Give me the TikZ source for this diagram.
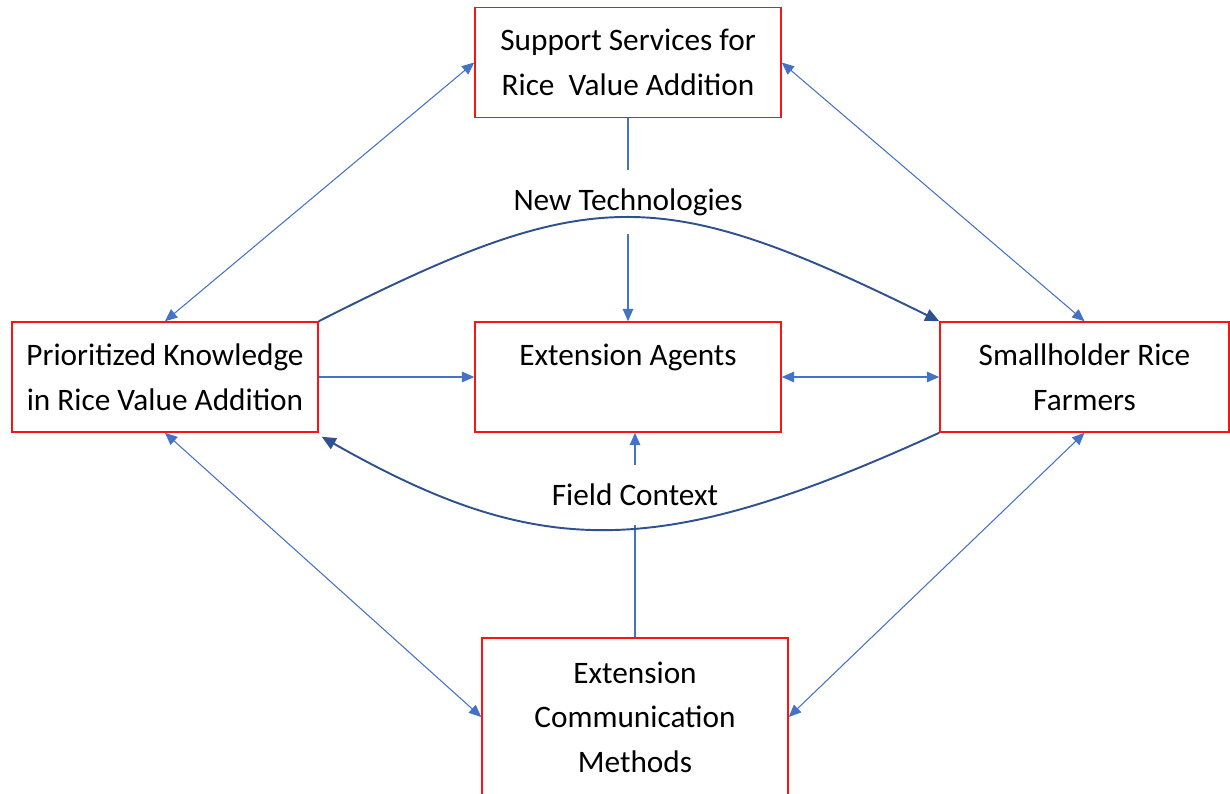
\documentclass[tikz,border=0pt]{standalone}
\usepackage{fontspec}
\setmainfont{Carlito}
\usetikzlibrary{arrows.meta}
\definecolor{LinkBlue}{RGB}{68,114,196}
\definecolor{CurveBlue}{RGB}{47,82,143}
\definecolor{BoxRed}{RGB}{250,20,20}

\begin{document}
\begin{tikzpicture}[x=0.02cm, y=-0.02cm,
    box/.style={draw=BoxRed, line width=0.9pt, align=center, inner sep=0pt,
      minimum width=6.12cm, minimum height=2.2cm, font=\fontsize{17.8}{25.4}\selectfont},
    tag/.style={align=center, inner sep=0pt, font=\fontsize{17.8}{25.4}\selectfont},
    link/.style={LinkBlue, line width=0.6pt},
    tip/.style={-{Triangle[width=6pt,length=7pt]}},
    tips/.style={{Triangle[width=6pt,length=7pt]}-{Triangle[width=6pt,length=7pt]}},
    curve/.style={CurveBlue, line width=1.1pt, -{Triangle[width=7pt,length=8pt]}}]
  \useasboundingbox (0,0) rectangle (1230,794);
  \clip (0,0) rectangle (1230,794);

  % boxes
  \node[box] (sup) at (628,62.5) {Support Services for\\Rice~ Value Addition};
  \node[box] (know) at (165,377) {Prioritized Knowledge\\in Rice Value Addition};
  \node[box] (agents) at (628,377) {Extension Agents\\\mbox{}};
  \node[box, minimum width=5.78cm] (farm) at (1084.5,377) {Smallholder Rice\\Farmers};
  \node[box, minimum height=3.16cm] (comm) at (635,717) {Extension\\Communication\\Methods};

  % labels on the middle axis
  \node[tag, minimum height=1.28cm] (newtech) at (628,202) {New Technologies};
  \node[tag, minimum height=1.2cm] (field) at (635,495) {Field Context};

  % vertical links
  \draw[link] (sup.south) -- (newtech.north);
  \draw[link, tip] (newtech.south) -- (agents.north);
  \draw[link, tip] (field.north) -- (field.north |- agents.south);
  \draw[link] (field.south) -- (comm.north);

  % horizontal links
  \draw[link, tip] (know.east) -- (agents.west);
  \draw[link, tips] (agents.east) -- (farm.west);

  % diagonals
  \draw[link, tips] (sup.west) -- (know.north);
  \draw[link, tips] (sup.east) -- (farm.north);
  \draw[link, tips] (know.south) -- (comm.west);
  \draw[link, tips] (farm.south) -- (comm.east);

  % curved flows
  \draw[curve] (know.north east) .. controls +(272,-138) and +(-280,-138) .. (farm.north west);
  \draw[curve] (farm.south west) .. controls +(-280,128) and +(218,124) .. ([shift={(3,4)}]know.south east);
\end{tikzpicture}
\end{document}
